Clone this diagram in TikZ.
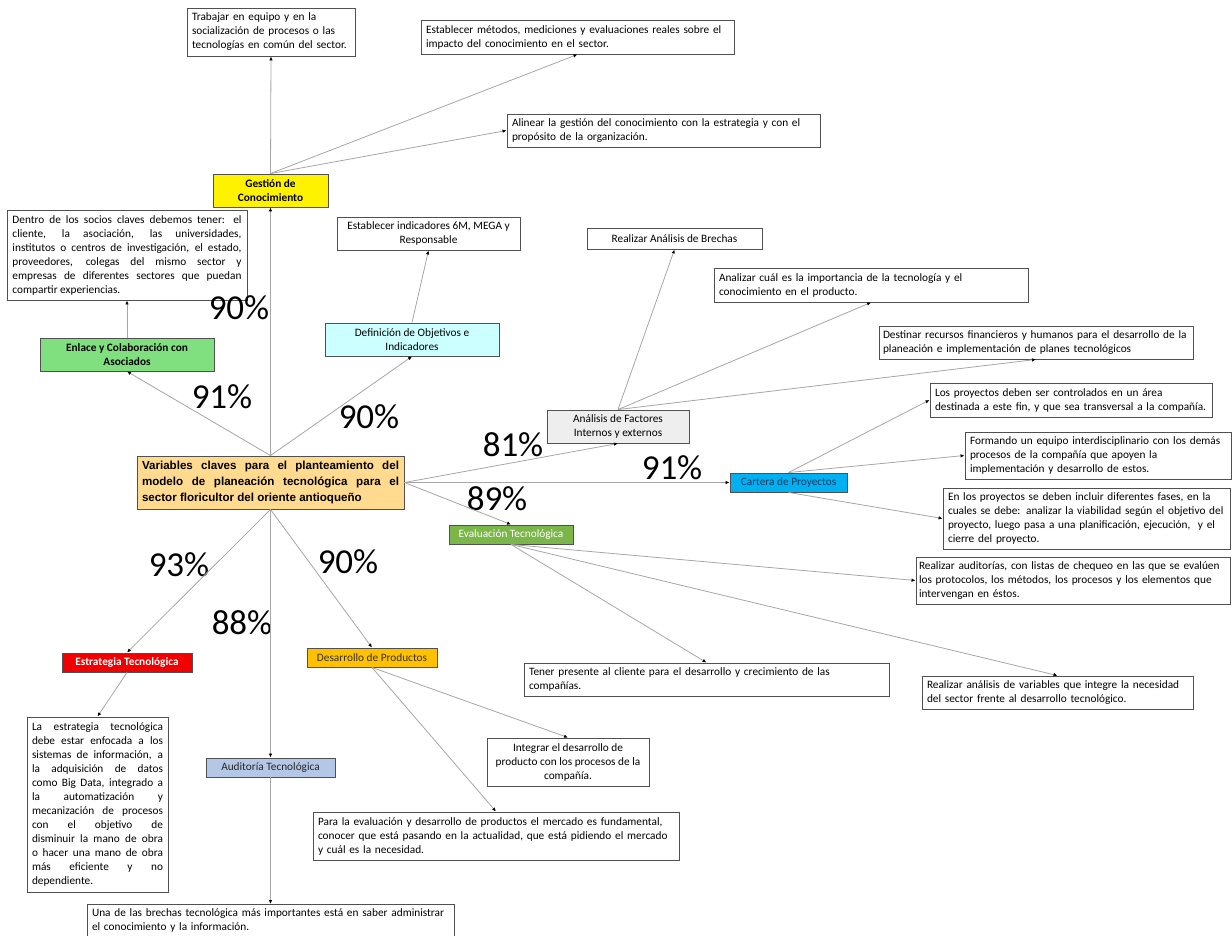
\documentclass[tikz,border=0pt]{standalone}
\usepackage{fontspec}
\setmainfont{Carlito}
\newfontfamily\arialf{Liberation Sans}
\usetikzlibrary{arrows.meta}
\hyphenpenalty=10000
\exhyphenpenalty=10000
% one unbreakable line of a left-aligned box
\newcommand\oneln[1]{\mbox{#1}}
\definecolor{centfill}{HTML}{FFDA8F}
\definecolor{enlfill}{HTML}{80E080}
\definecolor{deffill}{HTML}{CCFFFF}
\definecolor{facfill}{HTML}{EEEEEE}
\definecolor{carfill}{HTML}{00B0F0}
\definecolor{cartext}{HTML}{1F3864}
\definecolor{evafill}{HTML}{7AB648}
\definecolor{estfill}{HTML}{F00000}
\definecolor{desfill}{HTML}{FFC000}
\definecolor{audfill}{HTML}{B4C7E7}
\definecolor{linkgray}{HTML}{A6A6A6}
\definecolor{boxline}{HTML}{505050}
\tikzset{
  box/.style={draw=boxline, line width=0.9pt, inner xsep=5pt, inner ysep=2pt,
    font=\fontsize{11.3}{14}\selectfont, fill=white},
  wh/.style 2 args={minimum width=#1pt, minimum height=#2pt},
  lbl/.style={box, align=center},
  boldlbl/.style={lbl, font=\bfseries\fontsize{11.3}{14}\selectfont},
  pct/.style={inner sep=0pt, font=\fontsize{35}{35}\selectfont},
  arr/.style={draw=linkgray, line width=0.8pt,
    -{Latex[length=4pt,width=3.5pt,color=black]}},
}
\begin{document}
\begin{tikzpicture}[x=1pt, y=-1pt]
\useasboundingbox (0,0) rectangle (1232,936);

% central topic
\node[box, wh={267}{53}, fill=centfill, text width=257pt, align=justify,
  font=\arialf\bfseries\fontsize{11.6}{16}\selectfont] (cent) at (270.5,482.5)
  {Variables claves para el planteamiento del\linebreak
   modelo de planeación tecnológica para el\linebreak
   sector floricultor del oriente antioqueño};

% first-level categories
\node[boldlbl, wh={115}{33}, fill=yellow] (gest) at (270.5,190.5)
  {Gestión de\\Conocimiento};
\node[boldlbl, wh={174}{33}, fill=enlfill] (enl) at (127,354.5)
  {Enlace y Colaboración con\\Asociados};
\node[lbl, wh={174}{33}, fill=deffill] (defn) at (412,339.5)
  {Definición de Objetivos e\\Indicadores};
\node[lbl, wh={142}{33}, fill=facfill] (fact) at (618,426.5)
  {Análisis de Factores\\Internos y externos};
\node[lbl, wh={117}{19}, inner ysep=1pt, fill=carfill, text=cartext] (cart) at (788.5,482.5)
  {Cartera de Proyectos};
\node[lbl, wh={124}{19}, inner ysep=1pt, fill=evafill, text=white] (eval) at (511,534.5)
  {Evaluación Tecnológica};
\node[boldlbl, wh={130}{19}, inner ysep=1pt, fill=estfill, text=white] (estr) at (127,662.5)
  {Estrategia Tecnológica};
\node[lbl, wh={130}{19}, inner ysep=1pt, fill=desfill, text=black!80] (desa) at (372,657.5)
  {Desarrollo de Productos};
\node[lbl, wh={129}{19}, inner ysep=1pt, fill=audfill, text=black!85] (audt) at (270.5,767.5)
  {Auditoría Tecnológica};

% detail boxes
\node[box, wh={168}{48}, text width=158pt, align=left] (trab) at (271,32)
  {\oneln{Trabajar en equipo y en la}\\\oneln{socialización de procesos o las}\\\oneln{tecnologías en común del sector.}};
\node[box, wh={313}{34}, text width=303pt, align=left] (meto) at (577.5,37)
  {\oneln{Establecer métodos, mediciones y evaluaciones reales sobre el}\\\oneln{impacto del conocimiento en el sector.}};
\node[box, wh={313}{33}, text width=303pt, align=left] (alin) at (663.5,130.5)
  {\oneln{Alinear la gestión del conocimiento con la estrategia y con el}\\\oneln{propósito de la organización.}};
\node[box, wh={240}{90}, inner xsep=5.5pt, text width=229pt, align=justify] (dent) at (127,255)
  {Dentro de los socios claves debemos tener: el\linebreak
   cliente, la asociación, las universidades,\linebreak
   institutos o centros de investigación, el estado,\linebreak
   proveedores, colegas del mismo sector y\linebreak
   empresas de diferentes sectores que puedan\linebreak
   compartir experiencias.};
\node[lbl, wh={183}{33}] (indi) at (428.5,233.5)
  {Establecer indicadores 6M, MEGA y\\Responsable};
\node[lbl, wh={175}{21}, inner ysep=1pt] (brec) at (674.5,238.5)
  {Realizar Análisis de Brechas};
\node[box, wh={314}{34}, text width=304pt, align=left] (anal) at (871,285)
  {\oneln{Analizar cuál es la importancia de la tecnología y el}\\\oneln{conocimiento en el producto.}};
\node[box, wh={314}{33}, inner xsep=4pt, text width=306pt, align=left] (dest) at (1036,342.5)
  {\oneln{Destinar recursos financieros y humanos para el desarrollo de la}\\\oneln{planeación e implementación de planes tecnológicos}};
\node[box, wh={282}{34}, text width=272pt, align=left] (cont) at (1071,400)
  {\oneln{Los proyectos deben ser controlados en un área}\\\oneln{destinada a este fin, y que sea transversal a la compañía.}};
\node[box, wh={266}{47}, text width=256pt, align=left] (form) at (1098,455.5)
  {\oneln{Formando un equipo interdisciplinario con los demás}\\\oneln{procesos de la compañía que apoyen la}\\\oneln{implementación y desarrollo de estos.}};
\node[box, wh={287}{61}, text width=277pt, align=left] (fase) at (1086.5,518.5)
  {\oneln{En los proyectos se deben incluir diferentes fases, en la}\\\oneln{cuales se debe: analizar la viabilidad según el objetivo del}\\\oneln{proyecto, luego pasa a una planificación, ejecución,~ y el}\\\oneln{cierre del proyecto.}};
\node[box, wh={314}{47}, inner xsep=3pt, text width=308pt, align=left] (audi) at (1073,580.5)
  {\oneln{Realizar auditorías, con listas de chequeo en las que se evalúen}\\\oneln{los protocolos, los métodos, los procesos y los elementos que}\\\oneln{intervengan en éstos.}};
\node[box, wh={365}{33}, text width=355pt, align=left] (tene) at (706.5,679.5)
  {\oneln{Tener presente al cliente para el desarrollo y crecimiento de las}\\\oneln{compañías.}};
\node[box, wh={271}{33}, text width=261pt, align=left] (vari) at (1057.5,692.5)
  {\oneln{Realizar análisis de variables que integre la necesidad}\\\oneln{del sector frente al desarrollo tecnológico.}};
\node[box, wh={141}{175}, text width=131pt, align=justify] (lest) at (97.5,804.5)
  {La estrategia tecnológica\linebreak
   debe estar enfocada a los\linebreak
   sistemas de información, a\linebreak
   la adquisición de datos\linebreak
   como Big Data, integrado a\linebreak
   la automatización y\linebreak
   mecanización de procesos\linebreak
   con el objetivo de\linebreak
   disminuir la mano de obra\linebreak
   o hacer una mano de obra\linebreak
   más eficiente y no\linebreak
   dependiente.};
\node[lbl, wh={162}{48}] (inte) at (568,762)
  {Integrar el desarrollo de\\producto con los procesos de la\\compañía.};
\node[box, wh={366}{48}, text width=356pt, align=left] (para) at (496,836)
  {\oneln{Para la evaluación y desarrollo de productos el mercado es fundamental,}\\\oneln{conocer que está pasando en la actualidad, que está pidiendo el mercado}\\\oneln{y cuál es la necesidad.}};
% last box runs past the lower edge of the page
\node[box, wh={367}{46}, anchor=north] (unad) at (270.5,904) {};
\node[inner sep=0pt, text width=357pt, align=left, font=\fontsize{11.3}{14}\selectfont]
  (unadtxt) at (270.5,920)
  {\oneln{Una de las brechas tecnológica más importantes está en saber administrar}\\\oneln{el conocimiento y la información.}};

% percentages
\node[pct] (p1) at (239,308) {90\%};
\node[pct] (p2) at (222,397) {91\%};
\node[pct] (p3) at (369,417) {90\%};
\node[pct] (p4) at (513,445) {81\%};
\node[pct] (p5) at (672,468) {91\%};
\node[pct] (p6) at (497,499) {89\%};
\node[pct] (p7) at (179,565) {93\%};
\node[pct] (p8) at (348,562) {90\%};
\node[pct] (p9) at (242,623) {88\%};

% connectors from the central topic
\draw[arr] (cent.north) -- (gest.south);
\draw[arr] (cent.north) -- (enl.south);
\draw[arr] (cent.north) -- (defn.south);
\draw[arr] (cent.east) -- (fact.south);
\draw[arr] (cent.east) -- (cart.west);
\draw[arr] (cent.east) -- (eval.north);
\draw[arr] (cent.south) -- (estr.north);
\draw[arr] (cent.south) -- (audt.north);
\draw[arr] (cent.south) -- (desa.north);

% connectors to the details
\draw[arr] (gest.north) -- (trab.south);
\draw[arr] (gest.north) -- (meto.south);
\draw[arr] (gest.north) -- (alin.west);
\draw[arr] (enl.north) -- (dent.south);
\draw[arr] (defn.north) -- (indi.south);
\draw[arr] (fact.north) -- (brec.south);
\draw[arr] (fact.north) -- (anal.south);
\draw[arr] (fact.north) -- (dest.south);
\draw[arr] (cart.north) -- (cont.west);
\draw[arr] (cart.north) -- (form.west);
\draw[arr] (cart.south) -- (fase.west);
\draw[arr] (eval.south) -- (audi.west);
\draw[arr] (eval.south) -- (vari.north);
\draw[arr] (eval.south) -- (tene.north);
\draw[arr] (desa.south) -- (inte.north);
\draw[arr] (desa.south) -- (para.north);
\draw[arr] (estr.south) -- (lest.north);
\draw[arr] (audt.south) -- (unad.north);
\end{tikzpicture}
\end{document}
